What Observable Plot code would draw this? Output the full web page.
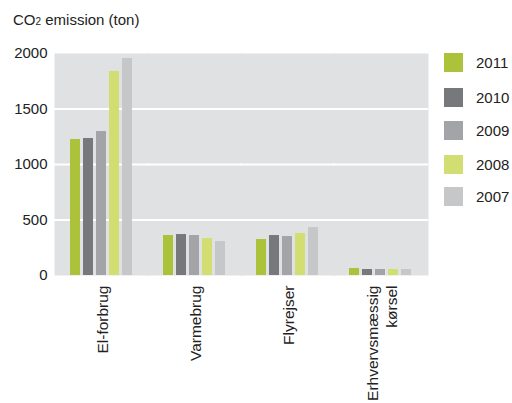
<!DOCTYPE html>
<html>
<head>
<meta charset="utf-8">
<script src="https://cdn.jsdelivr.net/npm/d3@7"></script>
<script src="https://cdn.jsdelivr.net/npm/@observablehq/plot@0.6"></script>
<style>
  body { margin: 0; background: #fff; font-family: "Liberation Sans", Arial, sans-serif; }
  #wrap { position: relative; width: 512px; height: 403px; }
  #title { height: 40px; box-sizing: border-box; padding: 12px 0 0 13px; font-size: 15px; line-height: 16px; color: #222; }
  #legend { position: absolute; left: 444px; top: 53px; }
  .item { position: absolute; left: 0; width: 70px; height: 19px; }
  .sw { position: absolute; left: 0; top: 0; width: 19px; height: 19px; }
  .lb { position: absolute; left: 32px; top: 0; font-size: 15px; line-height: 19px; color: #222; }
</style>
</head>
<body>
<div id="wrap">
  <div id="title">CO<span style="font-size:10px">2</span> emission (ton)</div>
  <div id="chart"></div>
  <div id="legend"></div>
</div>
<script>
const categories = ["El-forbrug", "Varmebrug", "Flyrejser", "Erhvervsmæssig\nkørsel"];
const years = ["2011", "2010", "2009", "2008", "2007"];
const colors = ["#abc23a", "#77787c", "#a3a4a7", "#d3de72", "#c6c7c9"];
const v2011 = [1225, 360, 324, 63];
const v2010 = [1234, 369, 360, 54];
const v2009 = [1297, 360, 351, 54];
const v2008 = [1838, 333, 378, 54];
const v2007 = [1955, 306, 432, 54];
const yTicks = [0, 500, 1000, 1500, 2000];

const series = [v2011, v2010, v2009, v2008, v2007];
const data = [];
categories.forEach((c, i) => years.forEach((y, j) => data.push({cat: c, year: y, value: series[j][i]})));

const chart = Plot.plot({
  width: 512,
  height: 363,
  marginTop: 13,
  marginBottom: 128,
  marginLeft: 55,
  marginRight: 85,
  style: {fontFamily: "Liberation Sans, Arial, sans-serif", fontSize: "15px", color: "#222"},
  fx: {domain: categories, padding: 0, label: null},
  x: {domain: years, paddingInner: 0.23, paddingOuter: 1.19, axis: null},
  y: {domain: [0, 2000], ticks: yTicks, tickFormat: "d", tickSize: 0, tickPadding: 8, label: null},
  color: {domain: years, range: colors},
  marks: [
    Plot.frame({fill: "#e0e1e3", stroke: null, insetLeft: -1, insetRight: -1}),
    Plot.ruleY(yTicks.slice(1, 4), {stroke: "#fff", strokeWidth: 2, insetLeft: -1, insetRight: -1}),
    Plot.barY(data, {fx: "cat", x: "year", y: "value", fill: "year"}),
    Plot.axisFx({anchor: "bottom", tickSize: 0, tickPadding: 10, tickRotate: -90, fontSize: 15.5, lineHeight: 1.25, label: null})
  ]
});
document.getElementById("chart").appendChild(chart);

const legend = document.getElementById("legend");
const tops = [0, 35, 68, 102, 134];
years.forEach((y, i) => {
  const it = document.createElement("div");
  it.className = "item";
  it.style.top = tops[i] + "px";
  it.innerHTML = `<div class="sw" style="background:${colors[i]}"></div><div class="lb">${y}</div>`;
  legend.appendChild(it);
});
</script>
</body>
</html>
